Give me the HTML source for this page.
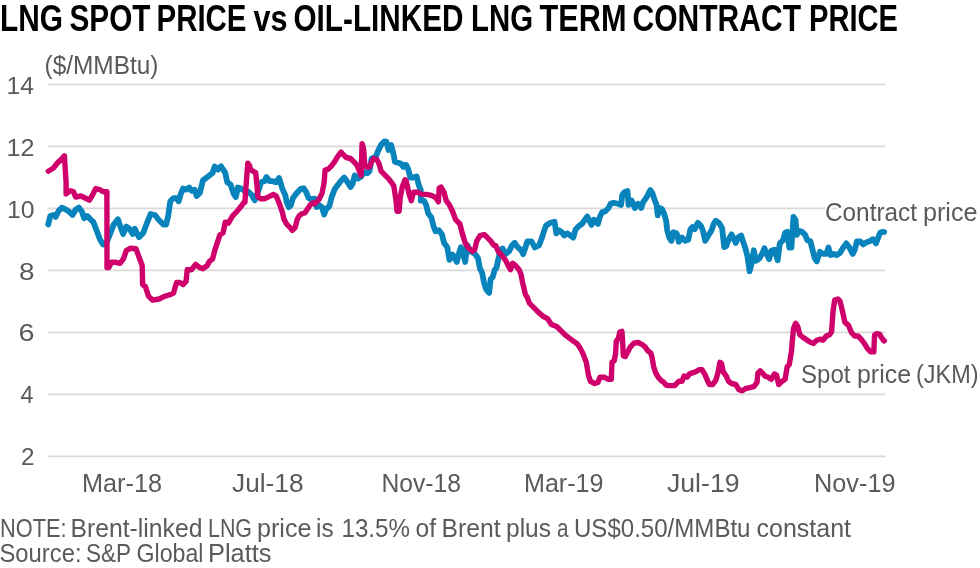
<!DOCTYPE html>
<html><head><meta charset="utf-8"><style>
html,body{margin:0;padding:0;background:#fff;}
body{width:980px;height:568px;overflow:hidden;}
svg{display:block;font-family:"Liberation Sans",sans-serif;will-change:transform;}
.g line{stroke:#d9d9d9;stroke-width:1.7;}
</style></head><body>
<svg width="980" height="568" viewBox="0 0 980 568">
<rect width="980" height="568" fill="#fff"/>
<g class="g">
<line x1="47.5" y1="84.50" x2="885.5" y2="84.50"/>
<line x1="47.5" y1="146.47" x2="885.5" y2="146.47"/>
<line x1="47.5" y1="208.44" x2="885.5" y2="208.44"/>
<line x1="47.5" y1="270.41" x2="885.5" y2="270.41"/>
<line x1="47.5" y1="332.38" x2="885.5" y2="332.38"/>
<line x1="47.5" y1="394.35" x2="885.5" y2="394.35"/>
<line x1="47.5" y1="456.32" x2="885.5" y2="456.32"/>
</g>
<text x="-0.00" y="30.8" font-size="37.5" font-weight="bold" fill="#000" textLength="63.00" lengthAdjust="spacingAndGlyphs">LNG</text>
<text x="69.50" y="30.8" font-size="37.5" font-weight="bold" fill="#000" textLength="81.00" lengthAdjust="spacingAndGlyphs">SPOT</text>
<text x="156.50" y="30.8" font-size="37.5" font-weight="bold" fill="#000" textLength="90.00" lengthAdjust="spacingAndGlyphs">PRICE</text>
<text x="253.50" y="30.8" font-size="37.5" font-weight="bold" fill="#000" textLength="34.00" lengthAdjust="spacingAndGlyphs">vs</text>
<text x="293.50" y="30.8" font-size="37.5" font-weight="bold" fill="#000" textLength="170.00" lengthAdjust="spacingAndGlyphs">OIL-LINKED</text>
<text x="471.00" y="30.8" font-size="37.5" font-weight="bold" fill="#000" textLength="62.00" lengthAdjust="spacingAndGlyphs">LNG</text>
<text x="539.50" y="30.8" font-size="37.5" font-weight="bold" fill="#000" textLength="87.00" lengthAdjust="spacingAndGlyphs">TERM</text>
<text x="632.50" y="30.8" font-size="37.5" font-weight="bold" fill="#000" textLength="168.50" lengthAdjust="spacingAndGlyphs">CONTRACT</text>
<text x="809.00" y="30.8" font-size="37.5" font-weight="bold" fill="#000" textLength="89.00" lengthAdjust="spacingAndGlyphs">PRICE</text>
<text x="0.00" y="536.5" font-size="26.2" fill="#5a5a5a" textLength="66.50" lengthAdjust="spacingAndGlyphs">NOTE:</text>
<text x="70.50" y="536.5" font-size="26.2" fill="#5a5a5a" textLength="132.00" lengthAdjust="spacingAndGlyphs">Brent-linked</text>
<text x="208.00" y="536.5" font-size="26.2" fill="#5a5a5a" textLength="44.00" lengthAdjust="spacingAndGlyphs">LNG</text>
<text x="257.00" y="536.5" font-size="26.2" fill="#5a5a5a" textLength="54.50" lengthAdjust="spacingAndGlyphs">price</text>
<text x="316.00" y="536.5" font-size="26.2" fill="#5a5a5a" textLength="17.50" lengthAdjust="spacingAndGlyphs">is</text>
<text x="341.50" y="536.5" font-size="26.2" fill="#5a5a5a" textLength="68.50" lengthAdjust="spacingAndGlyphs">13.5%</text>
<text x="415.50" y="536.5" font-size="26.2" fill="#5a5a5a" textLength="20.50" lengthAdjust="spacingAndGlyphs">of</text>
<text x="441.50" y="536.5" font-size="26.2" fill="#5a5a5a" textLength="59.00" lengthAdjust="spacingAndGlyphs">Brent</text>
<text x="506.00" y="536.5" font-size="26.2" fill="#5a5a5a" textLength="45.00" lengthAdjust="spacingAndGlyphs">plus</text>
<text x="557.00" y="536.5" font-size="26.2" fill="#5a5a5a" textLength="11.50" lengthAdjust="spacingAndGlyphs">a</text>
<text x="574.00" y="536.5" font-size="26.2" fill="#5a5a5a" textLength="176.50" lengthAdjust="spacingAndGlyphs">US$0.50/MMBtu</text>
<text x="756.50" y="536.5" font-size="26.2" fill="#5a5a5a" textLength="94.50" lengthAdjust="spacingAndGlyphs">constant</text>
<text x="-0.50" y="562.3" font-size="26.2" fill="#5a5a5a" textLength="82.00" lengthAdjust="spacingAndGlyphs">Source:</text>
<text x="86.00" y="562.3" font-size="26.2" fill="#5a5a5a" textLength="45.00" lengthAdjust="spacingAndGlyphs">S&amp;P</text>
<text x="136.50" y="562.3" font-size="26.2" fill="#5a5a5a" textLength="67.00" lengthAdjust="spacingAndGlyphs">Global</text>
<text x="208.00" y="562.3" font-size="26.2" fill="#5a5a5a" textLength="63.50" lengthAdjust="spacingAndGlyphs">Platts</text>
<text x="825.00" y="220.6" font-size="26.2" stroke="#fff" stroke-width="4" paint-order="stroke" stroke-linejoin="round" fill="#5a5a5a" textLength="92.00" lengthAdjust="spacingAndGlyphs">Contract</text>
<text x="923.00" y="220.6" font-size="26.2" stroke="#fff" stroke-width="4" paint-order="stroke" stroke-linejoin="round" fill="#5a5a5a" textLength="54.50" lengthAdjust="spacingAndGlyphs">price</text>
<text x="801.00" y="382.8" font-size="26.2" stroke="#fff" stroke-width="4" paint-order="stroke" stroke-linejoin="round" fill="#5a5a5a" textLength="49.50" lengthAdjust="spacingAndGlyphs">Spot</text>
<text x="857.00" y="382.8" font-size="26.2" stroke="#fff" stroke-width="4" paint-order="stroke" stroke-linejoin="round" fill="#5a5a5a" textLength="54.00" lengthAdjust="spacingAndGlyphs">price</text>
<text x="916.00" y="382.8" font-size="26.2" stroke="#fff" stroke-width="4" paint-order="stroke" stroke-linejoin="round" fill="#5a5a5a" textLength="62.50" lengthAdjust="spacingAndGlyphs">(JKM)</text>
<text x="44.50" y="73.6" font-size="26.2" fill="#5a5a5a" textLength="114.00" lengthAdjust="spacingAndGlyphs">($/MMBtu)</text>
<text x="6.50" y="93.5" font-size="23.9" fill="#5a5a5a" textLength="27.50" lengthAdjust="spacingAndGlyphs">14</text>
<text x="6.50" y="155.5" font-size="23.9" fill="#5a5a5a" textLength="28.00" lengthAdjust="spacingAndGlyphs">12</text>
<text x="7.00" y="217.5" font-size="23.9" fill="#5a5a5a" textLength="27.50" lengthAdjust="spacingAndGlyphs">10</text>
<text x="19.00" y="279.5" font-size="23.9" fill="#5a5a5a" textLength="15.50" lengthAdjust="spacingAndGlyphs">8</text>
<text x="18.50" y="341.4" font-size="23.9" fill="#5a5a5a" textLength="16.00" lengthAdjust="spacingAndGlyphs">6</text>
<text x="20.50" y="403.4" font-size="23.9" fill="#5a5a5a" textLength="13.00" lengthAdjust="spacingAndGlyphs">4</text>
<text x="21.00" y="465.3" font-size="23.9" fill="#5a5a5a" textLength="13.50" lengthAdjust="spacingAndGlyphs">2</text>
<text x="82.00" y="491.7" font-size="26.2" fill="#5a5a5a" textLength="80.00" lengthAdjust="spacingAndGlyphs">Mar-18</text>
<text x="232.00" y="491.7" font-size="26.2" fill="#5a5a5a" textLength="71.50" lengthAdjust="spacingAndGlyphs">Jul-18</text>
<text x="381.50" y="491.7" font-size="26.2" fill="#5a5a5a" textLength="79.50" lengthAdjust="spacingAndGlyphs">Nov-18</text>
<text x="524.00" y="491.7" font-size="26.2" fill="#5a5a5a" textLength="79.50" lengthAdjust="spacingAndGlyphs">Mar-19</text>
<text x="667.00" y="491.7" font-size="26.2" fill="#5a5a5a" textLength="72.50" lengthAdjust="spacingAndGlyphs">Jul-19</text>
<text x="814.00" y="491.7" font-size="26.2" fill="#5a5a5a" textLength="81.50" lengthAdjust="spacingAndGlyphs">Nov-19</text>

<polyline points="48.2,224.5 50.3,216 53.5,215 55.6,217 58.7,210.8 61.9,207.6 66.1,209.7 69.3,211.8 72.5,215 75.6,209.7 78.8,207.6 82,211.8 84.1,218.2 87.3,216 90.4,219.2 93.6,222.4 96.8,230.9 99.9,239.3 103.1,244.6 106.3,243.5 110.5,233 113.7,224.5 117.9,219.2 121.1,228.7 123.2,234 126.3,226.6 129.5,228.7 132.7,234 134.8,228.7 139,237.2 143.2,233 146.4,224.5 150.6,214 154.9,215 159.1,220.3 163.3,224.5 166.1,224.5 168.2,216 170.3,201.3 173.5,198.1 176.6,198.1 178.7,201.3 180.8,193.9 183,188.6 186.1,189.7 189.3,187.5 191.4,190.7 194.6,189.7 196.7,196 199.9,192.8 203,180.1 206.2,178 209.4,175.5 212.5,173 214.7,166.4 217.8,169.6 221,166.4 225.2,172.7 227.3,182.3 230.5,184.4 233.7,193.9 235.8,197 237.9,187.5 241.1,188.6 244.2,190.7 248.5,191.8 251.6,195 254.8,200.2 258,191.8 261.1,182.3 264.3,181.2 266.4,177 269.6,181.2 272.8,181.2 275.9,182.3 279.1,178 282.3,188.6 285.3,195.2 286.7,202.3 288.8,207.2 290.9,205.1 293,198 295.1,195.2 298,191.7 300.8,188.9 303.6,188.2 306.4,192.4 308.5,198 311.3,199.4 314.6,198.7 316.7,207.1 318.8,205 322,207.1 324.1,214.5 326.2,209.2 329.4,206.1 331.5,197.6 334.7,189.2 337.8,184.9 341,180.7 344.2,177.5 347.3,181.8 350.5,187 352.6,183.9 354.7,175.4 357.9,178.6 361.1,176.5 364.2,172.3 367.4,173.3 369.5,171.2 371.6,158.5 373.7,157.5 375.9,156.4 378,151.1 381.1,144.8 384.3,141.4 386.3,141.6 388.6,150 391.2,145 393.8,155.5 394.9,161.7 398,162.7 401.2,163.8 403.3,167 405,164.9 406.1,164.8 408.2,169 410.3,177.5 413.5,177.5 416.6,176.4 418.7,184.9 420.8,190.1 420.8,200.7 424,200.7 426.1,204.9 428.2,213.4 431.4,217.6 433.5,226.1 435.6,231.3 438.8,230.3 442,234.5 444.1,243 447.3,247.2 449.4,259.9 452.5,254.6 454.7,257.8 456.8,262 458.9,253.5 461,247.2 463.1,253.5 465.2,262 467.3,245.1 470.5,251.4 474.7,253.6 477.9,258 480,268.6 482.1,272.8 484.2,283.4 486.3,289.7 489.1,292.9 490.6,279.2 492.7,277 494.8,269.7 496.4,268.2 498.5,258.3 500.6,249.9 502.7,248.5 505.6,254.1 509.1,251.3 511.9,245.6 514.7,242.8 517.5,247 521.1,249.9 523.2,254.1 525.2,248 527.3,241.5 531.6,241.5 534.8,247.5 539,245.5 542.2,237 544,231 546.1,225.5 550.4,222.8 554.6,221.8 556.3,233.4 558.8,230.2 562,232.3 564.1,235.5 567.3,233.4 570.4,235.5 573.2,237.6 575.7,229.2 578.9,226 582,223.9 584.2,220.7 587.3,216.5 589.4,220.7 591.6,224.9 593.7,219.7 595.8,220.7 597.9,223.9 600,216.5 602.1,212.3 605.3,211.2 608.5,208 610.6,203.8 613.7,202.7 618,203.8 621.1,204.9 622.2,195.4 624.3,192.2 627.5,191.1 628.5,204.9 631.7,200.6 634.9,208 638,203.8 641.2,208 643.3,201.7 645,199.6 647.1,196.4 650.3,190.1 652.4,193.2 654.5,199.6 656.6,204.9 657.7,215.4 659.8,208 661.9,209.1 664,213.3 666.1,220.7 667.2,230.2 669.3,237.6 671.4,240.8 673.5,232.3 676.7,233.4 678.8,241.8 682,237.6 685.1,240.8 688.3,239.7 690.4,229.2 692.5,227 694.7,229.2 697.8,222.8 701,226 703.1,231.3 705.2,240.8 708.4,235.5 711.6,230.2 713.7,223.9 715.8,220.7 719,222.8 722.1,228.1 724.2,247.1 726.3,246.1 728.5,239.7 731.6,234.4 733.7,238.7 735.8,242.9 738,237.6 741.1,235.5 743.2,241.8 745.4,248.2 747.5,256.6 749.6,271.4 751.7,263 753.8,250.3 755.9,260.9 759.1,258.7 762.3,253.5 764.4,248.2 765,249.7 767.1,255 769.2,259.2 771.3,250.8 774.5,249.7 777.7,260.3 779.8,243.4 783,240.2 785.1,232.8 787.2,231.8 789.3,247.6 791.4,247.6 792.5,230.7 793.5,217 795.6,220.1 796.7,234.9 798.8,230.7 802,231.8 805.1,234.9 807.3,240.2 810.4,241.3 812.5,249.7 814.7,258.2 816.8,261.3 819.9,251.8 823.1,253.9 826.3,253.9 828.4,247.6 830.5,255 833.7,253.9 836.8,255 840,252.9 843.2,247.6 846.3,243.4 849.5,247.6 852.7,253.9 854.8,249.7 856.9,241.3 860.1,241.3 863.2,244.4 866.4,242.3 869.6,241.3 872.8,239.2 875.9,243.4 878,238.1 880.1,232.8 883,231.8 884.2,232" fill="none" stroke="#0983bb" stroke-width="5.8" stroke-linejoin="round" stroke-linecap="round"/>
<polyline points="48.3,171.2 53.2,168.3 58.2,162 60.8,160 64.4,155.8 66.1,182.3 66.1,193.9 70.4,190.7 73.5,191.8 75.6,197 81,196 85.1,198 89.4,200.2 92.5,195 95.7,188.6 99.9,189.6 103.1,191.8 106.9,191.8 107,267.6 108.8,267.6 111.6,262.3 115.8,262.3 120,263.4 123.2,259.2 126.3,250.7 130.6,248.2 135.9,248.6 139,257 142.2,265.5 142.6,284.5 145.4,286.6 148.5,296.1 152.8,300.2 159.1,299 165,296.1 169.2,295 173.5,293 176.6,282.4 179.8,282.4 183,284.5 186.1,281.3 187.2,269.7 191.4,269.7 195.6,264.4 199.9,267.6 203,268.7 207.3,265.5 209.4,261.3 212.5,259 214.7,250.7 216.8,244.4 219.9,234.9 223.1,232.7 225.2,222.2 228.4,223.2 232.6,215.8 236.8,211.6 241.1,206.3 244.2,202.1 244.9,202.3 246.3,182.3 247.8,163.2 249.5,165.4 250.6,169.6 253.7,171.7 255.7,172.7 257.1,186.8 257.8,196.6 260.6,198.7 264.9,198.7 269.1,196.6 273.3,194.5 276.1,195.9 278.2,200.8 280.4,206.5 282.5,212.8 283.9,219.2 286.7,224.1 290.2,227.6 292.3,230.4 295.1,227.6 297.3,219.2 299.4,215.6 302.2,213.5 305,212.8 307.8,208.6 310,205.1 312.7,203 314.6,203.9 318.8,199.7 322,193.4 324.1,182.8 325.1,170.1 328.3,169.1 331.5,165.9 334.7,161.7 337.8,156.4 341,152.2 343.1,154.3 346.3,157.5 350.5,158.5 353.7,161.7 356.8,164.9 358.9,170.1 361.1,175.4 361.5,161.7 362.1,143.7 363.6,149 364.9,165.9 366.3,167 369.5,167 371.6,161.7 373.7,158.5 376.9,159.6 379,163.8 381.1,171.2 384.3,174.4 388.5,178.6 391.7,182.8 393.8,186 395.9,199.7 397,211.3 399.1,211.3 400.2,197.6 402.3,187 405,179.7 406.1,180.6 409.2,194.4 411.3,200.7 413.5,192.3 417.7,192.3 421.9,194.4 426.1,194.4 431.4,195.4 435.6,197.5 438.4,201.8 439.2,188 440.9,187 444.1,192.3 446.2,200.7 449.4,204.9 452.5,211.3 455.7,219.7 459.9,224 462,232.4 465.2,243 468.4,248.2 472.6,251.4 474.7,249.3 476.8,240.9 480,235.6 484.2,234.5 487.4,237.7 490.6,240.9 493.7,245.1 495.7,245.6 498.5,252 502,255.5 505.6,260.4 508.4,266.1 510.5,269.6 512.6,263.2 515.4,265.4 519,269.6 521.1,274.5 522.5,282.3 523.9,287.9 525.3,294.2 527.4,297.7 529.5,303.4 532.3,306.2 535.8,309.7 539.4,313.2 542.9,316.1 547.8,318.9 551.4,324.4 556.7,326.5 560.9,330.7 565.1,334.9 569.4,338.1 573.6,341.3 576.8,343.4 579.9,347.6 583.1,353.9 586.3,362.4 588.4,375.1 590.5,381.4 594.7,383.5 597.9,382.5 600,377.2 604.2,377.2 607.8,379.2 611.3,379.2 612,362.3 614.2,360.8 615.6,353.8 616.3,341.1 618.4,338.3 619.8,332 621.9,331.3 622.6,341.1 623.3,355.9 625.4,356.6 627.5,352.4 630.4,346.8 633.9,343.2 638.1,342.5 642.3,344.6 645.1,346.8 647.3,350.3 650.8,353.1 652.2,358 653.6,366.5 655.7,372.8 658.5,377.7 661.3,380.6 663.5,382 666,385 669.3,385.6 674.6,385.6 676.7,383.5 678.8,381.3 682,381.3 684.1,376.1 687.3,377.1 689.4,373.9 692.5,372.9 695.7,371.8 698.9,369.7 702,369.7 705.2,375 707.3,380.3 709.4,384.5 712.6,384.5 715.8,380.3 717.9,372.9 720,362.3 721.5,363.4 723.2,371.8 726.3,376.1 728.5,381.3 731.6,383.5 735.8,384.5 739,389.8 742.2,390.9 745.4,388.7 749.6,387.7 753.8,386.6 757,382.4 758,372.9 760.1,370.8 763.3,373.9 765,376.1 768.2,377.2 771.3,379.3 774.5,374 776.6,375.1 778.7,384.6 781.9,381.4 785.1,379.3 787.2,366.6 789.3,364.5 791.4,351.8 793.5,328.6 795.6,323.3 797.7,326.5 799.9,334.9 804.1,338.1 807.3,340.2 810.4,342.3 813.6,343.4 816.8,340.2 819.9,339.2 823.1,340.2 826.3,336 829.4,334.9 831.6,331.8 833,311.7 834.7,300.1 837.9,299 840,301.1 842.1,309.6 844.9,322.3 848.5,325.4 851.6,332.8 854.8,336 858,336 861.1,339.2 864.3,343.4 867.5,348.7 870.6,351.8 873.8,351.8 874.6,335 876.5,333.6 879.5,334.2 881.5,337.5 883.5,340.4 884.3,340.9" fill="none" stroke="#cf006c" stroke-width="5.4" stroke-linejoin="round" stroke-linecap="round"/>
</svg>
</body></html>
